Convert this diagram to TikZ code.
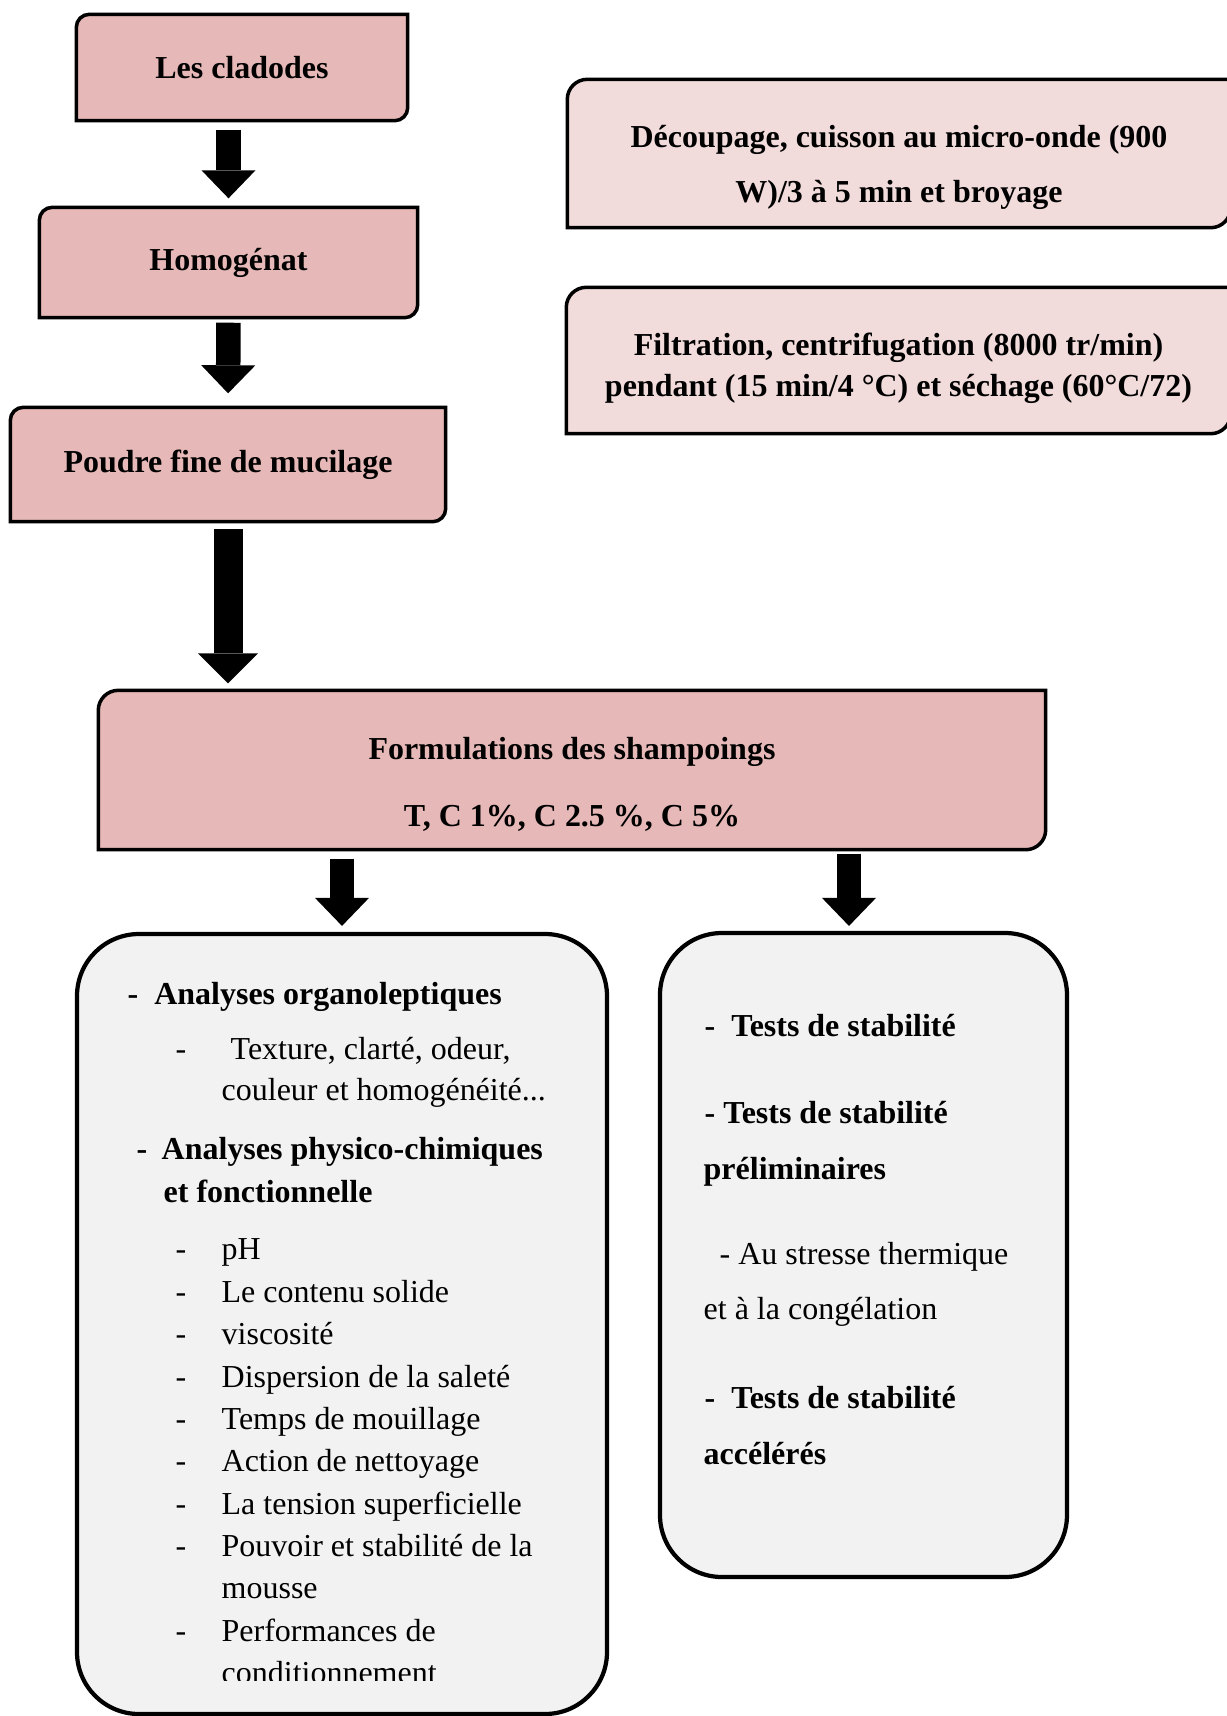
\documentclass[tikz,border=0pt]{standalone}
\usepackage{fontspec}
\setmainfont{Liberation Serif}
\usetikzlibrary{arrows.meta,backgrounds,positioning}

\definecolor{rosedark}{HTML}{E6B8B7}
\definecolor{roselight}{HTML}{F2DCDB}
\definecolor{greylight}{HTML}{F2F2F2}

% outline with round top-left and bottom-right corners
\newcommand{\diagframe}[3]{%
  \filldraw[fill=#2, line width=1pt] (#1.south west) -- ([yshift=-#3]#1.north west)
    arc[start angle=180, end angle=90, radius=#3] -- (#1.north east)
    -- ([yshift=#3]#1.south east) arc[start angle=0, end angle=-90, radius=#3] -- cycle;}

\begin{document}
\begin{tikzpicture}
	\tikzstyle{StepBox}	= [rectangle, inner sep=0pt, align=center, font=\fontsize{9.1pt}{11pt}\selectfont\bfseries]
	\tikzstyle{Panel}	= [rectangle, rounded corners=0.62cm, draw, line width=1.2pt, fill=greylight, inner sep=0pt]
	\tikzstyle{Line}	= [anchor=west, inner sep=0pt, text height=0.75em, text depth=0.15em, font=\fontsize{9.1pt}{11pt}\selectfont]
	\tikzstyle{Head}	= [Line, font=\fontsize{9.1pt}{11pt}\selectfont\bfseries]
	\tikzstyle{BigArrow}	= [line width=0.245cm, -{Triangle[width=0.54cm, length=0.28cm, line width=0pt]}]

	\useasboundingbox (0,0) rectangle (12.27,-17.16);

	\node (clad) at (2.42, -0.675) [StepBox, minimum width=3.30cm, minimum height=1.05cm] {Les cladodes};
	\node (homog) at (2.285, -2.625) [StepBox, minimum width=3.77cm, minimum height=1.09cm] {Homogénat};
	\node (poudre) at (2.28, -4.645) [StepBox, minimum width=4.34cm, minimum height=1.13cm] {Poudre fine de mucilage};
	\node (decoup) at (8.99, -1.535) [StepBox, minimum width=6.62cm, minimum height=1.47cm] {};
	\node (decouptxt) at ([yshift=-0.14cm]decoup.center) [StepBox] {Découpage, cuisson au micro-onde (900\\[4.6pt] W)/3 à 5 min et broyage};
	\node (filtr) at (8.985, -3.605) [StepBox, minimum width=6.63cm, minimum height=1.45cm] {};
	\node (filtrtxt) at ([yshift=-0.075cm]filtr.center) [StepBox] {Filtration, centrifugation (8000 tr/min)\\[0.7pt] pendant (15 min/4 °C) et séchage (60°C/72)};
	\node (form) at (5.72, -7.70) [StepBox, minimum width=9.46cm, minimum height=1.58cm] {};
	\node (formtxt) at ([yshift=-0.145cm]form.center) [StepBox] {Formulations des shampoings\\[8pt] T, C 1\%, C 2.5 \%, C 5\%};

	\begin{scope}[on background layer]
		\diagframe{clad}{rosedark}{0.13cm}
		\diagframe{homog}{rosedark}{0.13cm}
		\diagframe{poudre}{rosedark}{0.13cm}
		\diagframe{decoup}{roselight}{0.2cm}
		\diagframe{filtr}{roselight}{0.2cm}
		\diagframe{form}{rosedark}{0.2cm}
	\end{scope}

	\node (anal) at (3.42, -13.24) [Panel, minimum width=5.30cm, minimum height=7.80cm] {};
	\node (stab) at (8.635, -12.55) [Panel, minimum width=4.07cm, minimum height=6.44cm] {};

	\draw [BigArrow, shorten <=0.09cm, shorten >=0.09cm] (clad.south -| homog.north) to (homog.north);
	\draw [BigArrow, shorten <=0.05cm, shorten >=0.14cm] (homog.south) to (poudre.north);
	\draw [BigArrow, line width=0.29cm, shorten <=0.07cm, shorten >=0.07cm] (poudre.south) to (form.north -| poudre.south) [-{Triangle[width=0.60cm, length=0.30cm, line width=0pt]}];
	\draw [BigArrow, shorten <=0.09cm, shorten >=0.06cm] (form.south -| anal.north) to (anal.north);
	\draw [BigArrow, shorten <=0.04cm, shorten >=0.05cm] ([xshift=-0.145cm]stab.north |- form.south) to ([xshift=-0.145cm]stab.north);

	% left panel
	\node (org) at (1.27, -9.94) [Head] {-\hskip0.5em Analyses organoleptiques};
	\node (text) at (1.75, -10.49) [Line] {\makebox[0.55cm][l]{-}Texture, clarté, odeur,};
	\node (coul) at (2.21, -10.90) [Line] {couleur et homogénéité...};
	\node (phys) at (1.36, -11.49) [Head] {-\hskip0.45em Analyses physico-chimiques};
	\node (fonc) at (1.63, -11.92) [Head] {et fonctionnelle};
	\node (ph) at (1.75, -12.49) [Line] {\makebox[0.46cm][l]{-}pH};
	\node (sol) at (1.75, -12.92) [Line] {\makebox[0.46cm][l]{-}Le contenu solide};
	\node (visc) at (1.75, -13.34) [Line] {\makebox[0.46cm][l]{-}viscosité};
	\node (disp) at (1.75, -13.77) [Line] {\makebox[0.46cm][l]{-}Dispersion de la saleté};
	\node (mouil) at (1.75, -14.19) [Line] {\makebox[0.46cm][l]{-}Temps de mouillage};
	\node (nett) at (1.75, -14.61) [Line] {\makebox[0.46cm][l]{-}Action de nettoyage};
	\node (tens) at (1.75, -15.04) [Line] {\makebox[0.46cm][l]{-}La tension superficielle};
	\node (pouv) at (1.75, -15.46) [Line] {\makebox[0.46cm][l]{-}Pouvoir et stabilité de la};
	\node (mous) at (2.21, -15.88) [Line] {mousse};
	\node (perf) at (1.75, -16.31) [Line] {\makebox[0.46cm][l]{-}Performances de};
	\begin{scope}
		\clip (0, -16.80) rectangle (12.27, -16.40);
		\node (cond) at (2.21, -16.73) [Line] {conditionnement};
	\end{scope}

	% right panel
	\node (st1) at (7.04, -10.26) [Head] {-\hskip0.5em Tests de stabilité};
	\node (st2) at (7.04, -11.13) [Head] {- Tests de stabilité};
	\node (st3) at (7.03, -11.69) [Head] {préliminaires};
	\node (st4) at (7.19, -12.54) [Line] {- Au stresse thermique};
	\node (st5) at (7.03, -13.09) [Line] {et à la congélation};
	\node (st6) at (7.04, -13.98) [Head] {-\hskip0.5em Tests de stabilité};
	\node (st7) at (7.03, -14.54) [Head] {accélérés};
\end{tikzpicture}
\end{document}
